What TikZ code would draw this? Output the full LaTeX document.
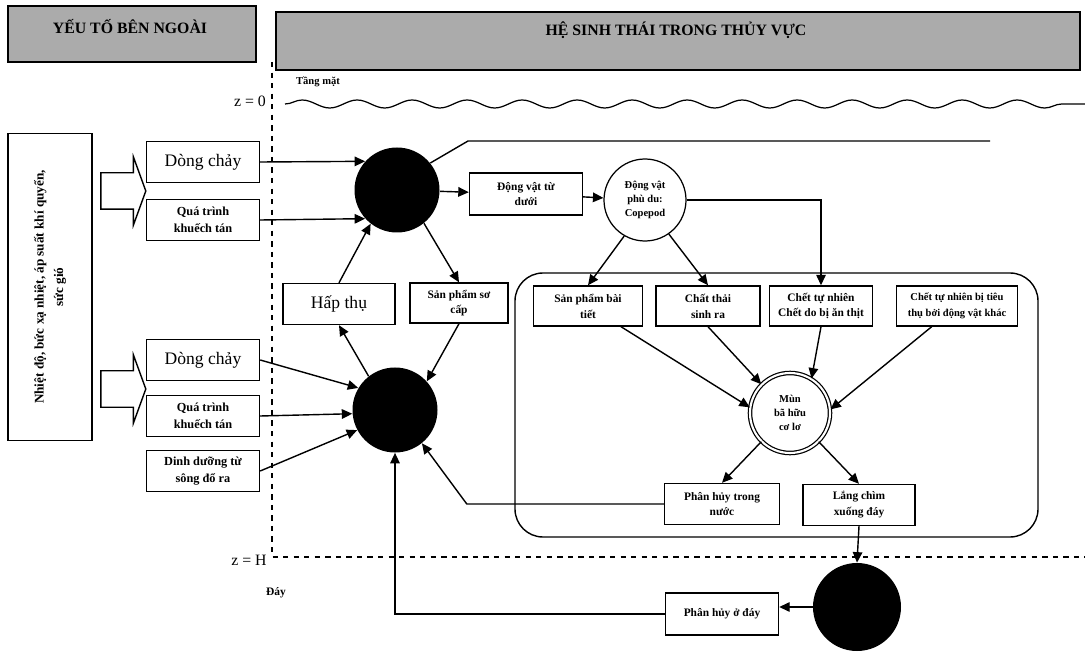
\documentclass[tikz,border=0pt]{standalone}
\usepackage{fontspec}
\setmainfont{Liberation Serif}
\usetikzlibrary{arrows.meta,positioning,calc,shapes.arrows,decorations.pathmorphing}
\definecolor{hdrgray}{HTML}{ABABAB}
\tikzset{
  >={Triangle[length=2.1mm,width=1.9mm]},
  % rubriker
  hdr/.style={draw=black,line width=1.3pt,fill=hdrgray,inner sep=0pt},
  hdrtxt/.style={font=\fontsize{9}{11}\selectfont\bfseries,inner sep=1pt},
  lbl/.style={font=\fontsize{9}{11}\selectfont,inner sep=1pt},
  smlbl/.style={font=\fontsize{6}{8}\selectfont\bfseries,inner sep=1pt},
  % hộp
  inbx/.style={draw,line width=0.8pt,minimum width=22.6mm,minimum height=8.2mm,
               inner sep=1pt,align=center,font=\fontsize{7}{9.5}\selectfont\bfseries},
  bigtxt/.style={font=\fontsize{10}{12}\selectfont},
  bx/.style={draw,line width=0.8pt,minimum height=8mm,inner sep=1pt,align=center,
             font=\fontsize{6.5}{9}\selectfont\bfseries},
  blk/.style={single arrow,draw,line width=0.8pt,minimum height=9mm,inner xsep=0pt,
              inner ysep=3.5mm,single arrow head extend=3.2mm,single arrow tip angle=140},
  % vòng
  bc/.style={circle,fill=black,minimum size=17mm,inner sep=0pt},
  wc/.style={circle,draw,line width=0.7pt,minimum size=16.4mm,inner sep=0pt,align=center,
             font=\fontsize{6}{8}\selectfont\bfseries},
  % đường
  fe/.style={->,line width=0.8pt},
  ln/.style={line width=0.8pt},
  lvl/.style={line width=0.6pt,dashed},
}
\begin{document}
\begin{tikzpicture}[x=0.2mm,y=-0.2mm]
  \useasboundingbox (0,0) rectangle (1085,652);
  % headers
  \node[hdr,minimum width=49.6mm,minimum height=11.2mm] (hl) at (132,34) {};
  \node[hdrtxt] (hltxt) at (130,27) {YẾU TỐ BÊN NGOÀI};
  \node[hdr,minimum width=160.8mm,minimum height=11.6mm] (hr) at (678,41) {};
  \node[hdrtxt] (hrtxt) at (676,30) {HỆ SINH THÁI TRONG THỦY VỰC};

  % levels
  \coordinate (vtop) at (272,62);
  \coordinate (vbot) at (272,557);
  \coordinate (hend) at (1085,557);
  \draw[lvl] (vtop) -- (vbot) -- (hend);
  \coordinate (w0) at (285,104);
  \coordinate (w1) at (1085,104);
  \draw[line width=0.7pt,decorate,decoration={snake,amplitude=0.8mm,segment length=11mm}] (w0) -- (w1);
  \node[smlbl] (tm) at (318,82) {Tầng mặt};
  \node[lbl] (z0) at (250,101) {z = 0};
  \node[lbl] (zh) at (249,560) {z = H};
  \node[smlbl,font=\fontsize{6.5}{8}\selectfont\bfseries] (day) at (276,593) {Đáy};

  % external factors
  \node[draw,line width=0.8pt,rotate=90,minimum width=61.4mm,minimum height=16.8mm,align=center,
        font=\fontsize{7.5}{11}\selectfont\bfseries] (env) at (50,287)
        {Nhiệt độ, bức xạ nhiệt, áp suất khí quyển,\\ sức gió};
  \node[blk] (ar1) at (120,191) {};
  \node[blk] (ar2) at (120,389) {};
  \node[inbx,bigtxt] (dc1) at (203,162) {Dòng chảy};
  \node[inbx] (qt1) at (203,220) {Quá trình\\ khuếch tán};
  \node[inbx,bigtxt] (dc2) at (203,360) {Dòng chảy};
  \node[inbx] (qt2) at (203,416) {Quá trình\\ khuếch tán};
  \node[inbx] (dd) at (203,471) {Dinh dưỡng từ\\ sông đổ ra};

  % ecosystem
  \node[bc] (p1) at (397,190) {};
  \node[bc] (p2) at (395,410) {};
  \node[bc,minimum size=17.6mm] (p3) at (857,607) {};
  \node[bx,bigtxt,font=\fontsize{10}{12}\selectfont,minimum width=22.4mm,minimum height=8.2mm] (hap) at (339,304) {Hấp thụ};
  \node[bx,minimum width=19.6mm] (sp) at (459,303) {Sản phẩm sơ\\ cấp};
  \node[bx,minimum width=22.6mm,minimum height=8.4mm] (dv) at (526,194) {Động vật từ\\ dưới};
  \node[wc] (cop) at (645,200) {Động vật\\ phù du:\\ Copepod};
  \node[bx,minimum width=21.8mm] (sbt) at (588,306) {Sản phẩm bài\\ tiết};
  \node[bx,minimum width=20.8mm] (ct) at (708,306) {Chất thải\\ sinh ra};
  \node[bx,minimum width=20.6mm] (ctn) at (821,306) {Chết tự nhiên\\ Chết do bị ăn thịt};
  \node[bx,minimum width=24.2mm,font=\fontsize{6}{9}\selectfont\bfseries] (ntn) at (957,306)
        {Chết tự nhiên bị tiêu\\ thụ bởi động vật khác};
  \node[wc,double,double distance=1.2pt,minimum size=16mm] (mun) at (790,413) {Mùn\\ bã hữu\\ cơ lơ};
  \node[bx,minimum width=23mm,minimum height=8.2mm] (phtn) at (722,504) {Phân hủy trong\\ nước};
  \node[bx,minimum width=22.4mm,minimum height=8.2mm] (lc) at (859,505) {Lắng chìm\\ xuống đáy};
  \node[bx,minimum width=22.6mm,minimum height=8.4mm] (phd) at (722,614) {Phân hủy ở đáy};
  \draw[ln,rounded corners=5.6mm] (515,273) rectangle (1038,537);

  % flows
  \draw[fe] (dc1.east) -- (p1.138);
  \draw[fe] (qt1.east) -- (p1.222);
  \draw[fe] (hap.north) -- (p1.232);
  \draw[fe] (p1.-51) -- (sp.north);
  \draw[fe] (p1) -- (dv);
  \draw[fe] (dv) -- (cop);
  \coordinate (tb) at (468,141);
  \coordinate (te) at (990,141);
  \draw[ln] (p1.39) -- (tb) -- (te);
  \draw[fe] (dc2.east) -- (p2.149);
  \draw[fe] (qt2.east) -- (p2.185);
  \draw[fe] (dd.east) -- (p2.208);
  \draw[fe] (p2.128) -- (hap.south);
  \draw[fe] (sp.south) -- (p2.42);
  \draw[fe] (cop.240) -- (sbt.north);
  \draw[fe] (cop.305) -- (ct.north);
  \draw[fe] (cop.east) -| (ctn.north);
  \draw[fe] (sbt) -- (mun.172);
  \draw[fe] (ct.south) -- (mun.135);
  \draw[fe] (ctn.south) -- (mun.58);
  \draw[fe] (ntn) -- (mun.5);
  \draw[fe] (mun.225) -- (phtn.north);
  \draw[fe] (mun.-45) -- (lc.north);
  \draw[fe] (phtn.west) -- ++(-197,0) -- (p2.-51);
  \draw[fe] (lc.south) -- (p3.north);
  \draw[fe] (p3.west) -- (p3.west -| phd.east);
  \draw[fe] (phd.west) -| (p2.south);
\end{tikzpicture}
\end{document}
